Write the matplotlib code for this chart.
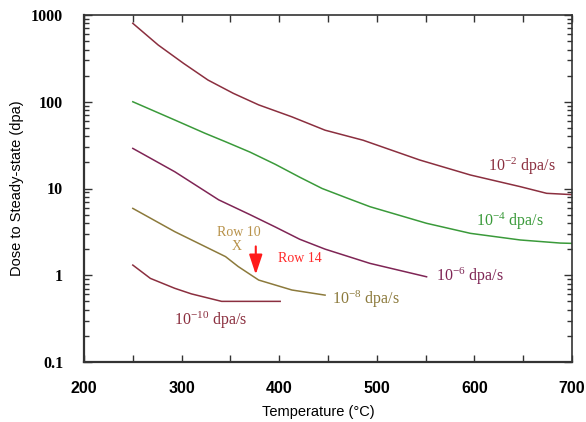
import matplotlib
matplotlib.use("Agg")
import matplotlib.pyplot as plt
from matplotlib.ticker import FixedLocator, LogLocator, NullFormatter, FixedFormatter

plt.rcParams["mathtext.fontset"] = "custom"
plt.rcParams["mathtext.rm"] = "Liberation Serif"
plt.rcParams["mathtext.it"] = "Liberation Serif:italic"

# Dose to steady state (dpa) versus temperature (°C) for each dose rate
temp_e2 = [250, 276, 302, 327, 353, 379, 413, 447, 486, 544, 596, 647, 674, 700]
dose_e2 = [802, 451, 277, 178, 125, 92, 67, 47, 36, 21.3, 14.3, 10.5, 8.8, 8.5]

temp_e4 = [250, 293, 324, 345, 370, 396, 421, 444, 469, 493, 551, 596, 647, 688, 700]
dose_e4 = [100, 61.6, 43.3, 34.6, 26.3, 19.0, 13.5, 10.0, 7.8, 6.17, 3.97, 3.04, 2.55,
           2.35, 2.33]

temp_e6 = [250, 293, 338, 370, 396, 421, 447, 493, 551]
dose_e6 = [29, 15.6, 7.4, 5.0, 3.6, 2.6, 2.0, 1.37, 0.96]

temp_e8 = [250, 293, 345, 358, 379, 413, 447]
dose_e8 = [5.9, 3.18, 1.64, 1.26, 0.88, 0.676, 0.59]

temp_e10 = [250, 268, 293, 310, 341, 401]
dose_e10 = [1.31, 0.92, 0.707, 0.61, 0.5, 0.5]

series_labels = ["$10^{-2}$ dpa/s", "$10^{-4}$ dpa/s", "$10^{-6}$ dpa/s",
                 "$10^{-8}$ dpa/s", "$10^{-10}$ dpa/s"]
label_pos = [(614, 18.2), (602, 4.14), (561, 0.96), (454, 0.53), (292, 0.305)]

x_ticks = [200, 300, 400, 500, 600, 700]
y_ticks = [0.1, 1, 10, 100, 1000]
y_tick_labels = ["0.1", "1", "10", "100", "1000"]

colors = ["#8B2F3F", "#3A9A3A", "#7F2555", "#8C7A3C", "#8B2F3F"]

fig = plt.figure(figsize=(5.86, 4.22), dpi=100)
ax = fig.add_axes([84 / 586, 60 / 422, 488 / 586, 347 / 422])

series = [(temp_e2, dose_e2), (temp_e4, dose_e4), (temp_e6, dose_e6),
          (temp_e8, dose_e8), (temp_e10, dose_e10)]
for (t, d), c, lab, (lx, ly) in zip(series, colors, series_labels, label_pos):
    ax.plot(t, d, color=c, lw=1.1, solid_joinstyle="round")
    ax.text(lx, ly, lab, color=c, fontsize=11.5, family="Liberation Serif",
            ha="left", va="center")

# annotations
ax.text(358.8, 3.15, "Row 10", color="#B8924A", fontsize=10,
        family="Liberation Serif", ha="center", va="center")
ax.text(356.8, 2.17, "X", color="#B8924A", fontsize=10,
        family="Liberation Serif", ha="center", va="center")
ax.text(398.5, 1.58, "Row 14", color="#FF2A2A", fontsize=10,
        family="Liberation Serif", ha="left", va="center")
ax.annotate("", xy=(376, 1.02), xytext=(376, 2.15),
            arrowprops=dict(arrowstyle="-|>,head_width=0.4,head_length=1.2",
                            color="#FF1A1A", lw=1.5, shrinkA=0, shrinkB=0))

ax.set_yscale("log")
ax.set_xlim(200, 700)
ax.set_ylim(0.1, 1000)

ax.xaxis.set_major_locator(FixedLocator(x_ticks))
ax.xaxis.set_minor_locator(FixedLocator([250, 350, 450, 550, 650]))
ax.yaxis.set_major_locator(FixedLocator(y_ticks))
ax.yaxis.set_major_formatter(FixedFormatter(y_tick_labels))
ax.yaxis.set_minor_locator(LogLocator(base=10, subs=range(2, 10)))
ax.yaxis.set_minor_formatter(NullFormatter())

ax.tick_params(axis="both", which="both", direction="in", top=True, right=True,
               color="#333333", width=1.0)
ax.tick_params(axis="x", which="both", length=5, pad=14)
ax.tick_params(axis="y", which="major", length=6, pad=15)
ax.tick_params(axis="y", which="minor", length=3.5)

for lbl in ax.get_xticklabels():
    lbl.set_fontfamily("Liberation Sans")
    lbl.set_fontweight("bold")
    lbl.set_fontsize(11.5)
for lbl in ax.get_yticklabels():
    lbl.set_fontfamily("Liberation Serif")
    lbl.set_fontweight("bold")
    lbl.set_fontsize(11.5)

for side in ["left", "bottom"]:
    ax.spines[side].set_linewidth(1.6)
for side in ["top", "right"]:
    ax.spines[side].set_linewidth(1.2)
for s in ax.spines.values():
    s.set_color("#333333")

ax.set_xlabel("Temperature (°C)", fontsize=10.5, family="Liberation Sans")
ax.set_ylabel("Dose to Steady-state (dpa)", fontsize=10.5, family="Liberation Sans",
              labelpad=5)
ax.xaxis.set_label_coords(0.48, -0.125)

fig.savefig("out.png", dpi=100)
